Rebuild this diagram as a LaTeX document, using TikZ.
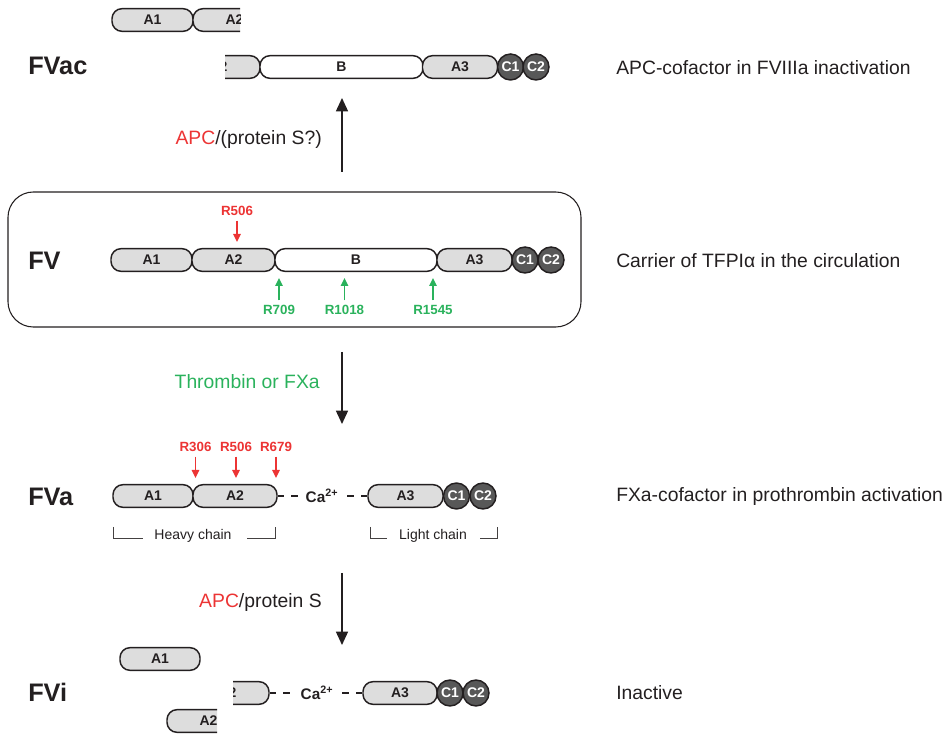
\documentclass[tikz,border=0pt]{standalone}
\usepackage{fontspec}
\setmainfont{Liberation Sans}
\usepackage{tikz}
\usetikzlibrary{arrows.meta}

\definecolor{domgray}{RGB}{221,221,221}
\definecolor{cgray}{RGB}{88,88,88}
\definecolor{txtgray}{RGB}{35,31,32}
\definecolor{apcred}{RGB}{236,52,52}
\definecolor{thrgreen}{RGB}{42,178,92}

\tikzset{
  dom/.style={draw=txtgray, line width=1.1pt, fill=domgray, rounded corners=7.5pt,
    minimum height=17pt, minimum width=#1*0.75pt, inner sep=0pt,
    font=\bfseries\fontsize{10.5}{12}\selectfont, text=txtgray},
  bdom/.style={dom=#1, fill=white},
  cdom/.style={circle, draw=txtgray, line width=1.1pt, fill=cgray, text=white,
    minimum size=19.5pt, inner sep=0pt, font=\bfseries\fontsize{10.5}{12}\selectfont},
  stage/.style={anchor=west, inner sep=0pt, text=txtgray, font=\bfseries\fontsize{19}{22}\selectfont},
  role/.style={anchor=west, inner sep=0pt, text=txtgray, font=\fontsize{14.5}{17}\selectfont},
  agent/.style={anchor=east, inner sep=0pt, text=txtgray, font=\fontsize{14.5}{17}\selectfont},
  site/.style={inner sep=1.5pt, font=\bfseries\fontsize{10}{12}\selectfont},
  cutred/.style={draw=apcred, line width=1.1pt, -{Triangle[length=6pt,width=5.5pt]}, shorten <=2pt},
  cutgreen/.style={draw=thrgreen, line width=1.1pt, -{Triangle[length=6pt,width=5.5pt]}, shorten <=2pt},
  flow/.style={draw=txtgray, line width=1.1pt, -{Triangle[length=10pt,width=9pt]}},
  link/.style={draw=txtgray, line width=1.1pt, dash pattern=on 5pt off 5pt},
  ion/.style={inner sep=4pt, text=txtgray, font=\bfseries\fontsize{11.5}{13}\selectfont},
  chain/.style={inner sep=2pt, text=txtgray, font=\fontsize{10.5}{12}\selectfont},
  brk/.style={draw=txtgray!85, line width=0.6pt}
}

\begin{document}
\begin{tikzpicture}[x=0.75pt,y=0.75pt,yscale=-1,xscale=1]
\useasboundingbox (0,0) rectangle (951,734);

%Shape: FV frame
\draw [txtgray, line width=0.8pt, rounded corners=19pt] (8,192) rectangle (581,327);

% Text Node
\draw (28,66) node (lblfvac) [stage] {FVac};
\draw (28,261) node (lblfv) [stage] {FV};
\draw (28,497) node (lblfva) [stage] {FVa};
\draw (28,692) node (lblfvi) [stage] {FVi};

% Text Node
\draw (616,68) node (rolefvac) [role] {APC-cofactor in FVIIIa inactivation};
\draw (616,261) node (rolefv) [role] {Carrier of TFPIα in the circulation};
\draw (616,497) node (rolefva) [role] {FXa-cofactor in prothrombin activation};
\draw (616,693) node (rolefvi) [role] {Inactive};

%Shape: FVac domains, A2 cut in two
\draw (152.5,20) node (fvacA1) [dom=81] {A1};
\begin{scope}
\clip (100,0) rectangle (240,40);
\draw (234.5,20) node (fvacA2a) [dom=83] {A2};
\end{scope}
\begin{scope}
\clip (225,45) rectangle (270,90);
\draw (218.5,67) node (fvacA2b) [dom=83] {A2};
\end{scope}
\draw (341.5,67) node (fvacB) [bdom=163] {B};
\draw (460,67) node (fvacA3) [dom=75] {A3};
\draw (510.5,67) node (fvacC1) [cdom] {C1};
\draw (536,67) node (fvacC2) [cdom] {C2};

%Straight Lines: APC step
\coordinate (apcfrom) at (342,172);
\coordinate (apcto) at (342,98);
\draw [flow] (apcfrom) -- (apcto);
\draw (322,140) node (apcup) [agent] {\textcolor{apcred}{APC}/(protein S?)};

%Shape: FV domains
\draw (151.5,260) node (fvA1) [dom=81] {A1};
\draw (233.5,260) node (fvA2) [dom=83] {A2};
\draw (356,260) node (fvB) [bdom=162] {B};
\draw (474.5,260) node (fvA3) [dom=75] {A3};
\draw (525,260) node (fvC1) [cdom] {C1};
\draw (551,260) node (fvC2) [cdom] {C2};

% Text Node: cleavage sites in FV
\draw (237,211) node (fv506) [site, text=apcred] {R506};
\coordinate (fv506tip) at (237,242);
\draw [cutred] (fv506) -- (fv506tip);
\draw (279,310) node (fv709) [site, text=thrgreen] {R709};
\coordinate (fv709tip) at (279,278);
\draw [cutgreen] (fv709) -- (fv709tip);
\draw (344.5,310) node (fv1018) [site, text=thrgreen] {R1018};
\coordinate (fv1018tip) at (344.5,278);
\draw [cutgreen] (fv1018) -- (fv1018tip);
\draw (433,310) node (fv1545) [site, text=thrgreen] {R1545};
\coordinate (fv1545tip) at (433,278);
\draw [cutgreen] (fv1545) -- (fv1545tip);

%Straight Lines: thrombin step
\coordinate (thrfrom) at (342,352);
\coordinate (thrto) at (342,424);
\draw [flow] (thrfrom) -- (thrto);
\draw (320,382) node (thr) [agent, text=thrgreen] {Thrombin or FXa};

%Shape: FVa domains
\draw (153,496) node (fvaA1) [dom=80] {A1};
\draw (235,496) node (fvaA2) [dom=84] {A2};
\draw (322,496) node (fvaca) [ion] {Ca\textsuperscript{2+}};
\draw (405.5,496) node (fvaA3) [dom=75] {A3};
\draw (456.5,496) node (fvaC1) [cdom] {C1};
\draw (483,496) node (fvaC2) [cdom] {C2};
\draw [link] (fvaA2) -- (fvaca);
\draw [link] (fvaA3) -- (fvaca);

% Text Node: cleavage sites in FVa
\draw (195.5,447) node (fva306) [site, text=apcred] {R306};
\coordinate (fva306tip) at (195.5,478);
\draw [cutred] (fva306) -- (fva306tip);
\draw (236,447) node (fva506) [site, text=apcred] {R506};
\coordinate (fva506tip) at (236,478);
\draw [cutred] (fva506) -- (fva506tip);
\draw (276,447) node (fva679) [site, text=apcred] {R679};
\coordinate (fva679tip) at (276,478);
\draw [cutred] (fva679) -- (fva679tip);

%Shape: chain brackets
\draw (193,536) node (heavy) [chain] {Heavy chain};
\draw [brk] (113,527) |- (143,538);
\draw [brk] (247,538) -| (275,527);
\draw (433,536) node (light) [chain] {Light chain};
\draw [brk] (370,527) |- (387,538);
\draw [brk] (480,538) -| (497,527);

%Straight Lines: APC step
\coordinate (inafrom) at (342,573);
\coordinate (inato) at (342,645);
\draw [flow] (inafrom) -- (inato);
\draw (322,603) node (apcdown) [agent] {\textcolor{apcred}{APC}/protein S};

%Shape: FVi domains, A2 cut in two
\draw (160,659) node (fviA1) [dom=80] {A1};
\begin{scope}
\clip (233,675) rectangle (280,711);
\draw (227.5,693) node (fviA2b) [dom=83] {A2};
\end{scope}
\begin{scope}
\clip (150,703) rectangle (217,734);
\draw (208.5,721) node (fviA2a) [dom=83] {A2};
\end{scope}
\draw (317,693) node (fvica) [ion, inner sep=6pt] {Ca\textsuperscript{2+}};
\draw (400,693) node (fviA3) [dom=74] {A3};
\draw (450,693) node (fviC1) [cdom] {C1};
\draw (476,693) node (fviC2) [cdom] {C2};
\draw [link] (fviA2b) -- (fvica);
\draw [link] (fviA3) -- (fvica);

\end{tikzpicture}
\end{document}
